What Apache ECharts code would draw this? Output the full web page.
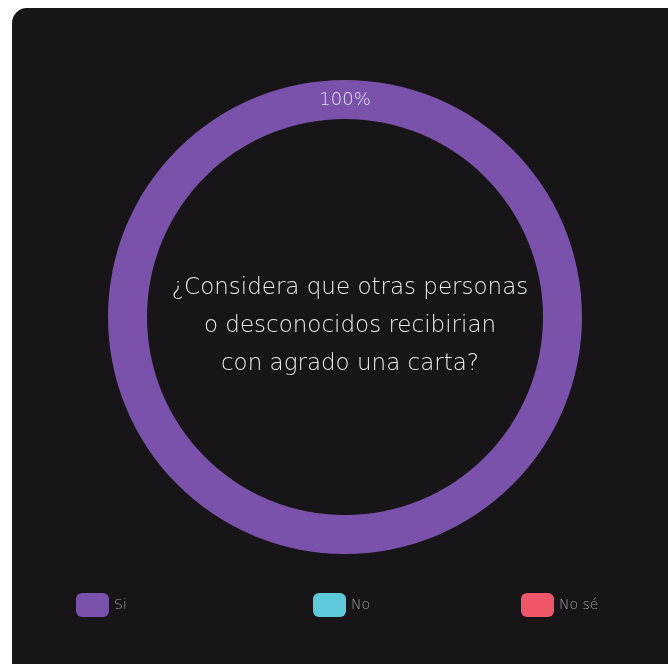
<!DOCTYPE html>
<html>
<head>
<meta charset="utf-8">
<style>
  html, body { margin: 0; padding: 0; background: #ffffff; overflow: hidden; }
  #chart { width: 668px; height: 664px; }
</style>
<script src="https://cdn.jsdelivr.net/npm/echarts@6/dist/echarts.min.js"></script>
</head>
<body>
<div id="chart"></div>
<script>
// Survey answers
const categories = ['Si', 'No', 'No sé'];
const percentages = [100, 0, 0];
const colors = ['#7b52ab', '#5ec9db', '#f0566a'];
const question = '¿Considera que otras personas\no desconocidos recibirian\ncon agrado una carta?';

const FONT = '"DejaVu Sans", sans-serif';

const chart = echarts.init(document.getElementById('chart'), null, { renderer: 'canvas' });

const legendLefts = [71, 308, 516];
const legends = categories.map((name, i) => ({
  data: [name],
  left: legendLefts[i],
  top: 588,
  icon: 'roundRect',
  itemWidth: 33,
  itemHeight: 24,
  itemGap: 8,
  selectedMode: false,
  textStyle: { color: '#a2a2a2', fontSize: 14, fontFamily: FONT, fontWeight: 200 }
}));

chart.setOption({
  backgroundColor: '#ffffff',
  color: colors,
  graphic: [{
    type: 'rect',
    z: -10,
    shape: { x: 12, y: 8, width: 720, height: 720, r: 15 },
    style: { fill: '#171517' }
  }],
  title: {
    text: question,
    left: 345,
    top: 264,
    textAlign: 'center',
    textStyle: {
      color: '#ececec',
      fontSize: 23,
      fontWeight: 200,
      fontFamily: FONT,
      lineHeight: 38
    }
  },
  legend: legends,
  series: [{
    type: 'pie',
    center: [345, 317],
    radius: [198, 237],
    startAngle: 270,
    silent: true,
    avoidLabelOverlap: false,
    label: {
      show: true,
      position: 'inside',
      color: '#e4dcef',
      fontSize: 18,
      fontWeight: 200,
      fontFamily: FONT,
      offset: [0, 4],
      formatter: p => (p.value > 0 ? p.value + '%' : '')
    },
    labelLine: { show: false },
    itemStyle: { borderWidth: 0 },
    data: categories.map((name, i) => ({ name, value: percentages[i] }))
  }]
});
</script>
</body>
</html>
